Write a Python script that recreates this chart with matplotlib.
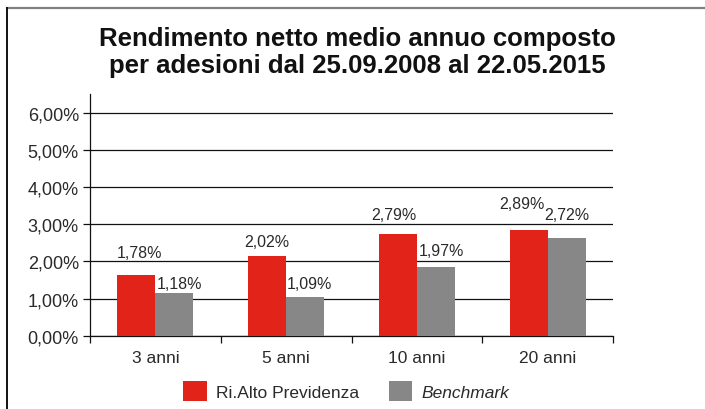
import matplotlib
matplotlib.use("Agg")
import matplotlib.pyplot as plt
from matplotlib.lines import Line2D
from matplotlib.patches import Patch
import numpy as np

categories = ["3 anni", "5 anni", "10 anni", "20 anni"]
series_names = ["Ri.Alto Previdenza", "Benchmark"]
rialto_values = [1.64, 2.15, 2.73, 2.84]
benchmark_values = [1.15, 1.04, 1.85, 2.62]
rialto_labels = ["1,78%", "2,02%", "2,79%", "2,89%"]
benchmark_labels = ["1,18%", "1,09%", "1,97%", "2,72%"]
y_ticks = [0, 1, 2, 3, 4, 5, 6]
y_tick_labels = ["0,00%", "1,00%", "2,00%", "3,00%", "4,00%", "5,00%", "6,00%"]
title = "Rendimento netto medio annuo composto\nper adesioni dal 25.09.2008 al 22.05.2015"

# style
RED = "#e2231a"
GRAY = "#878787"
TXT = "#2a2a2a"
FONT = "Liberation Sans"
# label offsets (points) relative to bar top, (dx, dy)
rialto_off = [(2, 16), (0, 10), (-3, 14), (-5, 19)]
bench_off = [(4, 7), (3, 10), (4, 12), (0, 17)]

plt.rcParams["font.family"] = [FONT, "DejaVu Sans"]

fig = plt.figure(figsize=(7.05, 4.10), dpi=100)
ax = fig.add_axes([90 / 705, 1 - 336.7 / 410, (613 - 90) / 705, (336.7 - 95) / 410])

x = np.arange(len(categories))
w = 0.29
b1 = ax.bar(x - w / 2, rialto_values, w, color=RED, zorder=3)
b2 = ax.bar(x + w / 2, benchmark_values, w, color=GRAY, zorder=3)

for rect, lab, off in zip(b1, rialto_labels, rialto_off):
    ax.annotate(lab, (rect.get_x() + rect.get_width() / 2, rect.get_height()),
                xytext=off, textcoords="offset points", ha="center", va="center",
                fontsize=11.5, color=TXT, zorder=4)
for rect, lab, off in zip(b2, benchmark_labels, bench_off):
    ax.annotate(lab, (rect.get_x() + rect.get_width() / 2, rect.get_height()),
                xytext=off, textcoords="offset points", ha="center", va="center",
                fontsize=11.5, color=TXT, zorder=4)

ax.set_xlim(-0.5, len(categories) - 0.5)
ax.set_ylim(0, 6.5)
ax.set_yticks(y_ticks)
ax.set_yticklabels(y_tick_labels, fontsize=13, color=TXT)
ax.yaxis.grid(True, color="#111111", linewidth=0.9, zorder=0)
ax.set_axisbelow(True)

ax.set_xticks(x)
ax.set_xticklabels(categories, fontsize=12.5, color=TXT)
ax.tick_params(axis="x", length=0, pad=10)
ax.set_xticks(np.arange(-0.5, len(categories), 1.0), minor=True)
ax.tick_params(axis="x", which="minor", length=5, width=0.9, color="#111111")
ax.tick_params(axis="y", length=5, width=0.9, color="#111111", pad=3)

for s in ["top", "right"]:
    ax.spines[s].set_visible(False)
ax.spines["left"].set_color("#111111")
ax.spines["left"].set_linewidth(0.9)
ax.spines["bottom"].set_color("#111111")
ax.spines["bottom"].set_linewidth(0.9)

fig.text(0.507, 0.872, title, ha="center", va="center", fontsize=18.5,
         fontweight="bold", color="#111111", linespacing=1.2)

handles = [Patch(facecolor=RED, edgecolor="none"), Patch(facecolor=GRAY, edgecolor="none")]
leg = fig.legend(handles, series_names, loc="center", bbox_to_anchor=(0.4915, 0.044),
                 ncol=2, frameon=False, fontsize=12.5, handlelength=1.35, handleheight=1.35,
                 columnspacing=1.7, handletextpad=0.55, borderpad=0, borderaxespad=0)
for t in leg.get_texts():
    t.set_color(TXT)
leg.get_texts()[1].set_style("italic")

# page border lines
fig.add_artist(Line2D([7 / 705, 1.0], [1 - 9 / 410, 1 - 9 / 410], color="#808080",
                      linewidth=1.6, transform=fig.transFigure))
fig.add_artist(Line2D([7 / 705, 7 / 705], [1 - 9 / 410, 0.0], color="#111111",
                      linewidth=1.4, transform=fig.transFigure))

fig.savefig("out.png", dpi=100)
